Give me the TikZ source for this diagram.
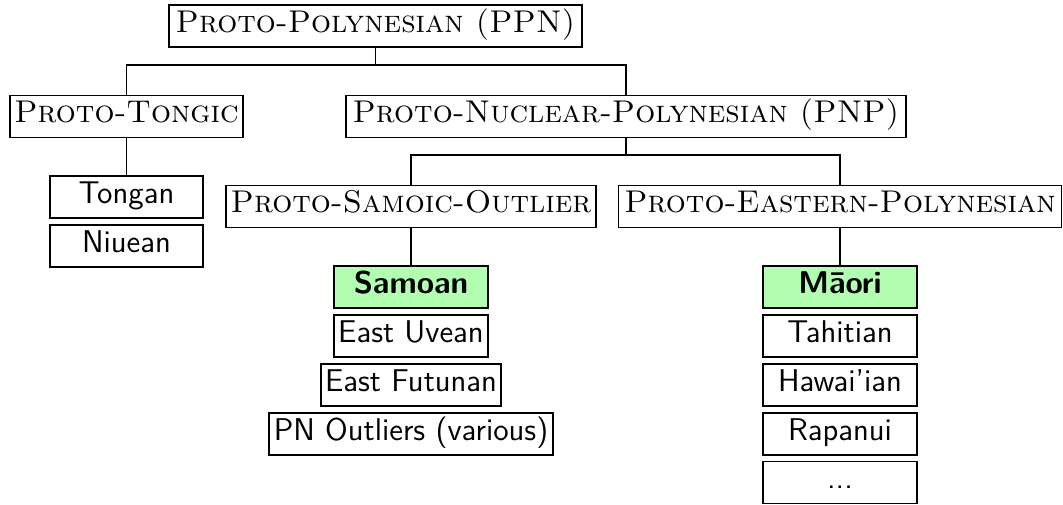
\documentclass[tikz,border=0pt]{standalone}
\usepackage{fontspec}
\begin{document}
\begin{tikzpicture}[x=0.3815pt,y=-0.3815pt,
  box/.style={draw, line width=0.4pt, inner sep=0pt, minimum height=42*0.3815pt, text height=1.5ex, text depth=0.4ex, anchor=center},
  sc/.style={box, font=\large\scshape},
  lang/.style={box, font=\large\sffamily, minimum width=154*0.3815pt},
  main/.style={lang, fill=green!30, font=\large\sffamily\bfseries},
  conn/.style={line width=0.4pt}]
\useasboundingbox (0,0) rectangle (1063,504);
\node[sc, minimum width=413*0.3815pt] (ppn) at (375.5,26) {Proto-Polynesian (PPN)};
\node[sc, minimum width=233*0.3815pt] (tongic) at (126.5,116.5) {Proto-Tongic};
\node[sc, minimum width=560*0.3815pt] (pnp) at (626,116.5) {Proto-Nuclear-Polynesian (PNP)};
\node[sc, minimum width=370*0.3815pt] (pso) at (411,206.5) {Proto-Samoic-Outlier};
\node[sc, minimum width=443*0.3815pt] (pep) at (840,206.5) {Proto-Eastern-Polynesian};
\node[lang, minimum width=153*0.3815pt] (tongan) at (126.5,197) {Tongan};
\node[lang, minimum width=153*0.3815pt] (niuean) at (126.5,246) {Niuean};
\node[main] (samoan) at (411,287) {Samoan};
\node[lang] (uvean) at (411,336) {East Uvean};
\node[lang, minimum width=180*0.3815pt] (futunan) at (411,385) {East Futunan};
\node[lang, minimum width=284*0.3815pt] (outliers) at (411,434) {PN Outliers (various)};
\node[main] (maori) at (840,287) {Māori};
\node[lang] (tahitian) at (840,336) {Tahitian};
\node[lang] (hawaiian) at (840,385) {Hawai'ian};
\node[lang] (rapanui) at (840,434) {Rapanui};
\node[lang] (more) at (840,482.5) {...};
\coordinate (j1) at (375.5,65);
\coordinate (j2) at (626,155);
\draw[conn] (ppn.south) -- (j1) -| (tongic.north);
\draw[conn] (j1) -| (pnp.north);
\draw[conn] (tongic.south) -- (tongan.north);
\draw[conn] (pnp.south) -- (j2) -| (pso.north);
\draw[conn] (j2) -| (pep.north);
\draw[conn] (pso.south) -- (samoan.north);
\draw[conn] (pep.south) -- (maori.north);
\end{tikzpicture}
\end{document}
